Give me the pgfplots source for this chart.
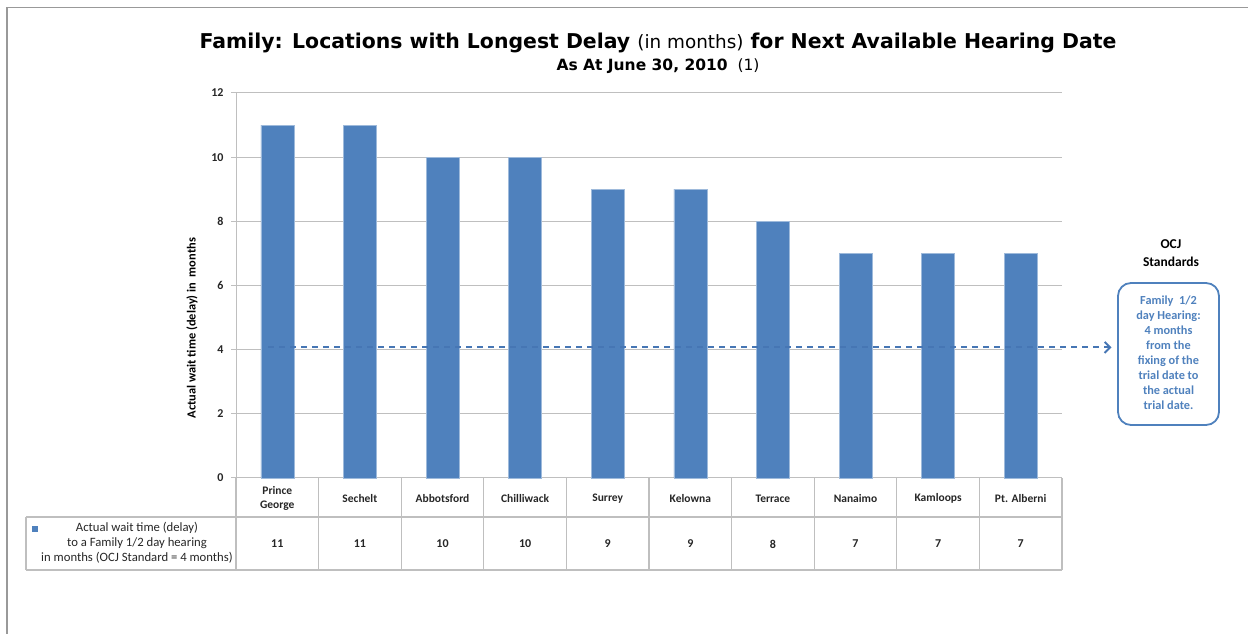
\documentclass[border=0pt]{standalone}
\usepackage{fontspec}
\setmainfont{Carlito}
\newfontfamily\titlefont{DejaVu Sans}
\usepackage{pgfplots}
\pgfplotsset{compat=1.18}
\usetikzlibrary{arrows.meta}
\definecolor{barblue}{HTML}{4F81BD}
\definecolor{dashblue}{HTML}{4676B4}
\definecolor{gridgray}{HTML}{BFBFBF}
\begin{document}
\begin{tikzpicture}[x=1pt,y=1pt]
\path[use as bounding box] (0,0) rectangle (1248,634);
\draw[black!40, line width=1.5pt] (7,0) -- (7,626.5) -- (1248,626.5);
% titles
\node at (658,591) {\resizebox{917pt}{!}{\titlefont\bfseries Family: Locations with Longest Delay {\mdseries\fontsize{9}{10}\selectfont(in months)} for Next Available Hearing Date}};
\node[font=\titlefont\fontsize{15.5}{17}\selectfont] at (658,568) {\textbf{As At June 30, 2010}\ \ (1)};
\begin{axis}[
  at={(236pt,156pt)}, anchor=south west,
  width=826pt, height=385pt, scale only axis,
  xmin=-0.5, xmax=9.5, ymin=0, ymax=12,
  ytick={0,2,...,12},
  /pgf/number format/assume math mode=true,
  ymajorgrids, grid style={gridgray, line width=1pt},
  axis x line*=bottom, axis y line*=left,
  axis line style={gridgray, line width=1pt, -},
  tick align=outside, major tick length=5pt,
  ytick style={gridgray, line width=1pt},
  xtick style={draw=none},
  yticklabel style={font=\bfseries\fontsize{12}{14}\selectfont, text=black!85, xshift=-4pt},
  xtick={0,...,9},
  xticklabels={{Prince\\George},Sechelt,Abbotsford,Chilliwack,Surrey,Kelowna,Terrace,Nanaimo,Kamloops,{Pt. Alberni}},
  xticklabel style={align=center, anchor=center, font=\bfseries\fontsize{11.5}{14}\selectfont, text=black!85, yshift=-15.5pt},
  extra x ticks={0,...,9},
  extra x tick labels={11,11,10,10,9,9,8,7,7,7},
  extra x tick style={xticklabel style={yshift=-45.5pt, font=\bfseries\fontsize{12}{14}\selectfont}},
  clip=false,
]
\addplot[ybar, bar width=33pt, fill=barblue, draw=barblue!55!white, line width=0.6pt]
  coordinates {(0,11) (1,11) (2,10) (3,10) (4,9) (5,9) (6,8) (7,7) (8,7) (9,7)};
\addplot[draw=dashblue, line width=2pt, dash pattern=on 6pt off 5pt, -{Straight Barb[length=5.5pt,width=11pt]}]
  coordinates {(-0.11,4.07) (10.1,4.07)};
\end{axis}
% data table grid
\draw[gridgray, line width=1.3pt] (26,117) -- (1062,117);
\draw[gridgray, line width=1.3pt] (26,64) -- (1062,64);
\draw[gridgray, line width=1.3pt] (26,64) -- (26,117);
\foreach \k in {0,...,10} {\draw[gridgray, line width=1.3pt] ({236+82.6*\k},64) -- ({236+82.6*\k},156);}
% legend key
\fill[barblue] (31.5,102) rectangle (37.5,108);
\node[align=center, font=\fontsize{12.7}{15}\selectfont, text=black!85] at (137,91) {Actual wait time (delay)\\to a Family 1/2 day hearing\\in months (OCJ Standard = 4 months)};
% y label
\node[rotate=90, font=\bfseries\fontsize{12.4}{14}\selectfont] at (192,306) {Actual wait time (delay) in\ \ months};
% OCJ standards
\node[align=center, font=\bfseries\fontsize{13.5}{18}\selectfont] at (1171,381) {OCJ\\Standards};
\draw[barblue, line width=1.8pt, rounded corners=13pt] (1118,209) rectangle (1219,351);
\node[align=center, text=barblue, font=\bfseries\fontsize{12.3}{15}\selectfont] at (1168.5,281.5) {Family\ \ 1/2\\day Hearing:\\4 months\\from the\\fixing of the\\trial date to\\the actual\\trial date.};
\end{tikzpicture}
\end{document}
